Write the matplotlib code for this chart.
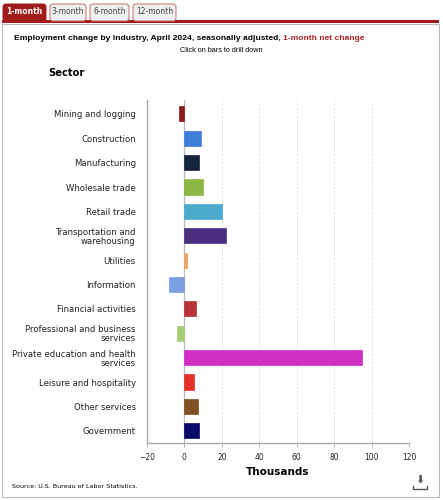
import matplotlib
matplotlib.use("Agg")
import matplotlib.pyplot as plt
from matplotlib.patches import Rectangle, FancyBboxPatch

sectors = ["Mining and logging", "Construction", "Manufacturing", "Wholesale trade",
           "Retail trade", "Transportation and\nwarehousing", "Utilities", "Information",
           "Financial activities", "Professional and business\nservices",
           "Private education and health\nservices", "Leisure and hospitality",
           "Other services", "Government"]
values = [-3, 9, 8, 10, 20, 22, 1.3, -8, 6, -4, 95, 5, 7, 8]
colors = ["#8B1A1A", "#3F7FD9", "#14243F", "#8DB844", "#4BAACF", "#4B2D7F", "#F0A060",
          "#7B9FE0", "#B8333A", "#A8CC78", "#D12FC4", "#E8302A", "#7F5020", "#0A0A6A"]
xticks = [-20, 0, 20, 40, 60, 80, 100, 120]
tabs = ["1-month", "3-month", "6-month", "12-month"]

W, H = 443, 500
fig = plt.figure(figsize=(W / 100, H / 100), dpi=100)
fig.patch.set_facecolor("white")

def fx(px):
    return px / W

def fy(py):
    return 1 - py / H

# Outer frame
fig.add_artist(Rectangle((fx(2), fy(497)), fx(437), (495 - 22) / H, transform=fig.transFigure,
                         facecolor="white", edgecolor="#BBBBBB", lw=0.8, zorder=0))
# Red line under tabs
fig.add_artist(Rectangle((fx(2), fy(23)), fx(437), 3 / H, transform=fig.transFigure,
                         facecolor="#A11B1B", edgecolor="none", zorder=1))
# Tabs
tab_x = [(3, 46), (50, 86), (90, 129), (133, 176)]
for i, (name, (x0, x1)) in enumerate(zip(tabs, tab_x)):
    active = i == 0
    fc = "#A11B1B" if active else "#EFEFEF"
    ec = "#A11B1B" if active else "#C07070"
    fig.add_artist(FancyBboxPatch((fx(x0), fy(21)), fx(x1 - x0), 17 / H,
                                  boxstyle="round,pad=0,rounding_size=0.006",
                                  transform=fig.transFigure, facecolor=fc, edgecolor=ec,
                                  lw=0.7, zorder=2))
    fig.text(fx((x0 + x1) / 2), fy(12), name, ha="center", va="center",
             fontsize=5.5, color="white" if active else "#444444",
             fontweight="bold" if active else "normal", zorder=3)

# Title
t1 = fig.text(fx(14), fy(38), "Employment change by industry, April 2024, seasonally adjusted, ",
              ha="left", va="center", fontsize=6.1, fontweight="bold", color="black",
              family="Liberation Sans")
fig.canvas.draw()
bb = t1.get_window_extent()
fig.text(bb.x1 / W, fy(38), "1-month net change", ha="left", va="center", fontsize=6.1,
         fontweight="bold", color="#B22222", family="Liberation Sans")
fig.text(fx(221), fy(50), "Click on bars to drill down", ha="center", va="center",
         fontsize=5.2, color="black", family="Liberation Sans")
fig.text(fx(48), fy(73), "Sector", ha="left", va="center", fontsize=7.2,
         fontweight="bold", color="black")

# Axes
ax = fig.add_axes([fx(147), fy(443), fx(409 - 147), (443 - 100) / H])
ypos = list(range(len(sectors)))
ax.barh(ypos, values, height=0.62, color=colors, edgecolor=colors, lw=0.5, zorder=3)
ax.set_xlim(-20, 120)
ax.set_ylim(13.5, -0.57)
ax.set_xticks(xticks)
ax.set_xticklabels(["\u221220" if v < 0 else str(v) for v in xticks], fontsize=5.5,
                   color="#222222")
ax.set_yticks(ypos)
ax.set_yticklabels(sectors, fontsize=6.1, color="#222222", linespacing=1.0)
ax.tick_params(axis="y", length=0, pad=8)
ax.tick_params(axis="x", length=3, width=0.6, color="#AAAAAA", pad=4)
for v in xticks:
    if v == 0:
        ax.axvline(v, color="#BBBBBB", lw=0.9, zorder=2)
    elif v not in (-20, 120):
        ax.axvline(v, color="#DDDDDD", lw=0.6, ls=(0, (3, 2)), zorder=1)
for s in ["top", "right"]:
    ax.spines[s].set_visible(False)
ax.spines["left"].set_color("#AAAAAA")
ax.spines["bottom"].set_color("#AAAAAA")
ax.spines["left"].set_linewidth(1.0)
ax.spines["bottom"].set_linewidth(1.0)
ax.set_xlabel("Thousands", fontsize=7.5, fontweight="bold", labelpad=4)

# Source
fig.text(fx(12), fy(486), "Source: U.S. Bureau of Labor Statistics.", ha="left", va="center",
         fontsize=4.6, color="black")
# Download icon
fig.text(fx(420), fy(480), "\u2b07", ha="center", va="center", fontsize=8, color="#555555")
fig.add_artist(plt.Line2D([fx(413), fx(413), fx(427), fx(427)], [fy(486), fy(489), fy(489), fy(486)],
                          transform=fig.transFigure, color="#555555", lw=1.0))

fig.savefig("out.png", dpi=100)
